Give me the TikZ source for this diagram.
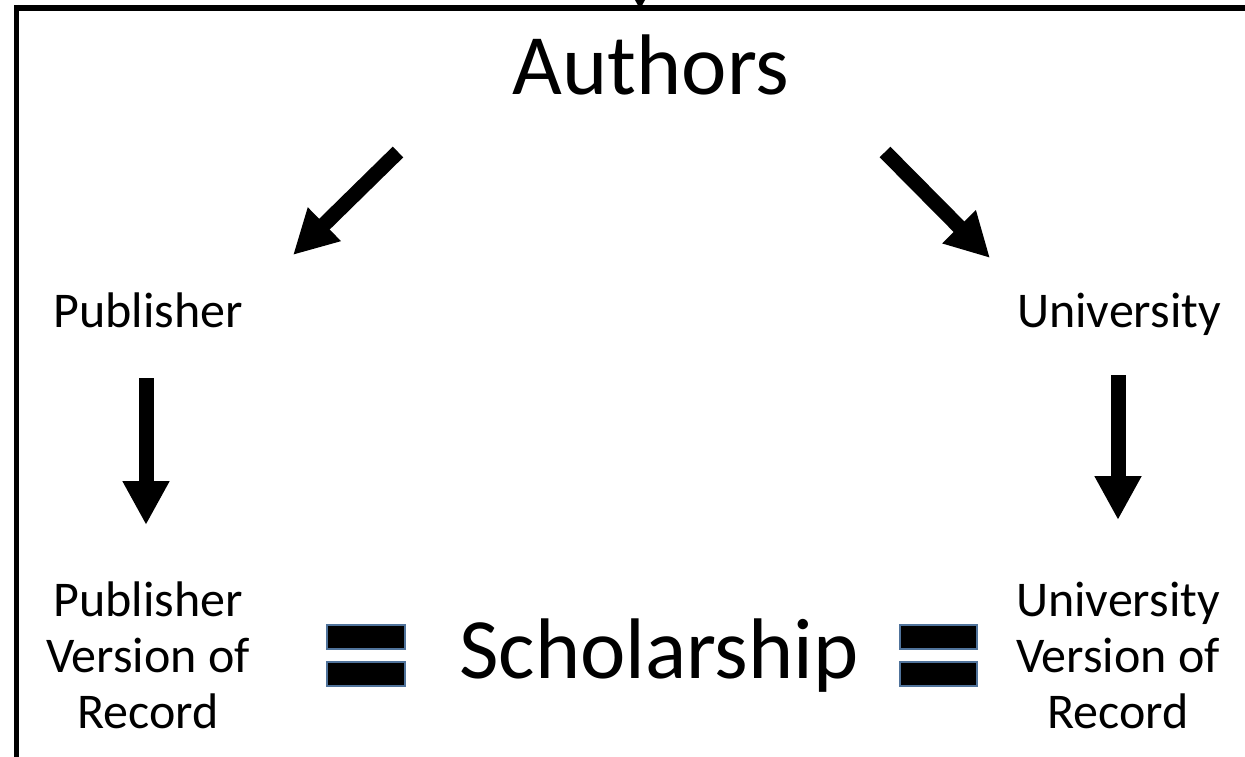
\documentclass[tikz,border=0pt]{standalone}
\usepackage{fontspec}
\setmainfont{Carlito}
\usetikzlibrary{arrows.meta}
\definecolor{eqedge}{RGB}{80,115,155}
\tikzset{
    bigtext/.style={
        inner sep=0,
        anchor=base,
        font=\fontsize{86}{100}\selectfont
    },
    labeltext/.style={
        inner sep=0,
        anchor=base,
        align=center,
        font=\fontsize{50}{56}\selectfont
    },
    fatarrow/.style={
        line width=15pt, % 粗箭头
        -{Triangle[width=44pt,length=44pt]}
    },
    eqbar/.style={
        fill=black,
        draw=eqedge, % 边框颜色
        line width=1.2pt
    }
}
\begin{document}
\begin{tikzpicture}[x=1pt,y=-1pt]
            \useasboundingbox (0,0) rectangle (1245,757);
            % 外框
            \draw[line width=6pt] (16,8) -- (1245,8);
            \draw[line width=5pt] (16.5,5) -- (16.5,757);
            \fill (635,0) -- (645,0) -- (640,9) -- cycle;
            % 文字
            \node[bigtext] (authors) at (651,95) {Authors};
            \node[labeltext] (publisher) at (148,327) {Publisher};
            \node[labeltext] (university) at (1119,327) {University};
            \node[labeltext] (pubvor) at (148,728) {Publisher\\Version of\\Record};
            \node[labeltext] (univor) at (1118,728) {University\\Version of\\Record};
            \node[bigtext] (scholarship) at (659,678) {Scholarship};
            % 箭头
            \coordinate (leftstart) at (398,152);
            \coordinate (leftend) at (293,255);
            \coordinate (rightstart) at (885,152);
            \coordinate (rightend) at (990,258);
            \coordinate (pubstart) at (146,378);
            \coordinate (pubend) at (146,525);
            \coordinate (unistart) at (1118,375);
            \coordinate (uniend) at (1118,520);
            \draw[fatarrow] (leftstart) -- (leftend);
            \draw[fatarrow] (rightstart) -- (rightend);
            \draw[fatarrow] (pubstart) -- (pubend);
            \draw[fatarrow] (unistart) -- (uniend);
            % 等号
            \draw[eqbar] (327,625) rectangle (405,649);
            \draw[eqbar] (327,662) rectangle (405,686);
            \draw[eqbar] (900,625) rectangle (977,649);
            \draw[eqbar] (900,662) rectangle (977,686);
\end{tikzpicture}
\end{document}
